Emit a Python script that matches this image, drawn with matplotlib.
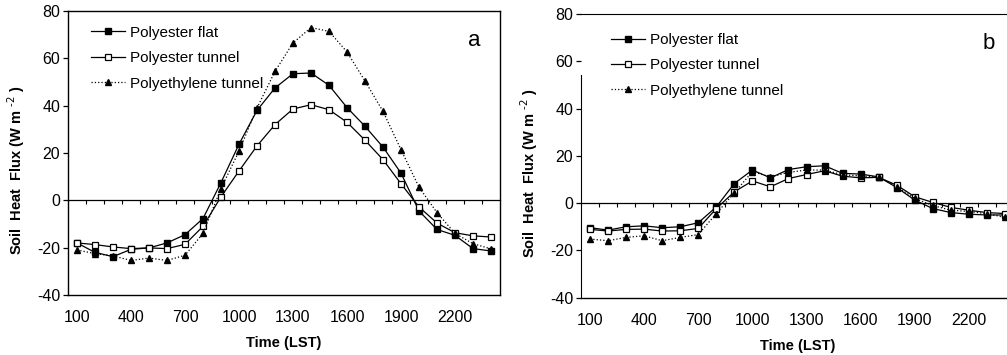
import matplotlib
matplotlib.use("Agg")
import matplotlib.pyplot as plt
import numpy as np

plt.rcParams["font.family"] = ["Liberation Sans", "DejaVu Sans"]
plt.rcParams["axes.unicode_minus"] = False

# Hora local (LST), una medida por hora
horas = np.arange(100, 2500, 100)
etiquetas_x = [100, 400, 700, 1000, 1300, 1600, 1900, 2200]

# Panel a
a_poliester_plano = [-18, -22, -23.8, -20.7, -20.1, -18, -14.5, -7.7, 7.5, 23.7, 38, 47.5,
                     53.5, 53.8, 48.6, 39.2, 31.3, 22.5, 11.5, -4.5, -12.3, -14.8, -20.4, -21.4]
a_poliester_tunel = [-18, -18.7, -19.7, -20.4, -20.1, -20.4, -18.6, -11, 1.5, 12.4, 23, 32,
                     38.6, 40.4, 38.3, 33, 25.4, 17.2, 7, -2.8, -9.6, -13.7, -15, -15.5]
a_polietileno_tunel = [-21, -22.5, -23.5, -25.4, -24.4, -25.4, -23.2, -14, 5, 20.8, 39, 54.5,
                       66.5, 73, 71.4, 62.7, 50.4, 37.6, 21.4, 5.6, -5.2, -14, -18.3, -20.5]

# Panel b
b_poliester_plano = [-10.4, -11.4, -10, -9.6, -10.4, -10, -8.3, -1.6, 8.3, 14, 10.7, 14.2,
                     15.4, 15.8, 12.6, 12.3, 11.1, 6.6, 1.3, -2.3, -4, -4.7, -5, -5]
b_poliester_tunel = [-11.1, -11.8, -11.1, -11, -11.8, -11.7, -10.7, -2.3, 4.8, 9.4, 6.9, 10.4,
                     12.1, 13.7, 11.4, 10.7, 10.9, 7.6, 2.7, 0.3, -1.8, -3, -4, -4.4]
b_polietileno_tunel = [-15.2, -15.9, -14.5, -13.8, -15.9, -14.5, -13.3, -4.4, 4.4, 13.3, 11.1, 13,
                       14, 14, 12, 11.5, 11, 7, 2, -1, -3, -3.5, -4.5, -6]

SERIES = ["Polyester flat", "Polyester tunnel", "Polyethylene tunnel"]


def dibujar_panel(ax, valores, letra, leyenda_xy):
    """Dibuja un panel con las tres cubiertas."""
    plano, tunel, polietileno = valores
    ax.plot(horas, plano, "-", color="black", lw=0.9, marker="s", ms=4.2,
            mfc="black", mec="black", label=SERIES[0])
    ax.plot(horas, tunel, "-", color="black", lw=0.9, marker="s", ms=4.2,
            mfc="white", mec="black", mew=0.9, label=SERIES[1])
    ax.plot(horas, polietileno, ":", color="black", lw=0.9, marker="^", ms=4.2,
            mfc="black", mec="black", label=SERIES[2])

    ax.set_xlim(50, 2450)
    ax.set_ylim(-40, 80)
    ax.set_yticks(np.arange(-40, 81, 20))
    ax.tick_params(axis="y", direction="out", length=3.5, width=0.9, labelsize=11.5, pad=2)

    # eje x cruzando en y=0 con marcas entre categorias
    ax.spines["bottom"].set_position(("data", 0))
    ax.spines["bottom"].set_linewidth(0.9)
    ax.set_xticks(np.arange(150, 2450, 100))
    ax.tick_params(axis="x", direction="out", length=3, width=0.8, labelbottom=False)

    sec = ax.secondary_xaxis("bottom")
    sec.set_xticks(etiquetas_x)
    sec.tick_params(length=0, labelsize=11.5, pad=11)
    sec.spines["bottom"].set_linewidth(1.0)
    sec.set_xlabel("Time (LST)", fontsize=10.5, fontweight="bold", labelpad=8)

    ax.set_ylabel("Soil  Heat  Flux (W m $^{\\text{-2}}$ )", fontsize=10.5,
                  fontweight="bold")
    ax.yaxis.set_label_coords(-0.095, 0.44)

    ax.text(0.955, 0.895, letra, transform=ax.transAxes, fontsize=16, ha="right", va="center")

    ax.legend(loc="upper left", bbox_to_anchor=leyenda_xy, frameon=False, fontsize=11,
              handlelength=2.2, handletextpad=0.35, labelspacing=0.75, borderaxespad=0)


fig = plt.figure(figsize=(10.07, 3.55), dpi=100)

ax_a = fig.add_axes([68 / 1007, 1 - 295 / 355, 432 / 1007, 284 / 355])
dibujar_panel(ax_a, (a_poliester_plano, a_poliester_tunel, a_polietileno_tunel), "a", (0.04, 0.97))
for s in ("left", "right", "top"):
    ax_a.spines[s].set_linewidth(1.0)

ax_b = fig.add_axes([581 / 1007, 1 - 297.7 / 355, 433 / 1007, 283.7 / 355])
dibujar_panel(ax_b, (b_poliester_plano, b_poliester_tunel, b_polietileno_tunel), "b", (0.055, 0.955))
ax_b.spines["right"].set_visible(False)
ax_b.spines["left"].set_bounds(-40, 54)

fig.savefig("out.png", dpi=100)
